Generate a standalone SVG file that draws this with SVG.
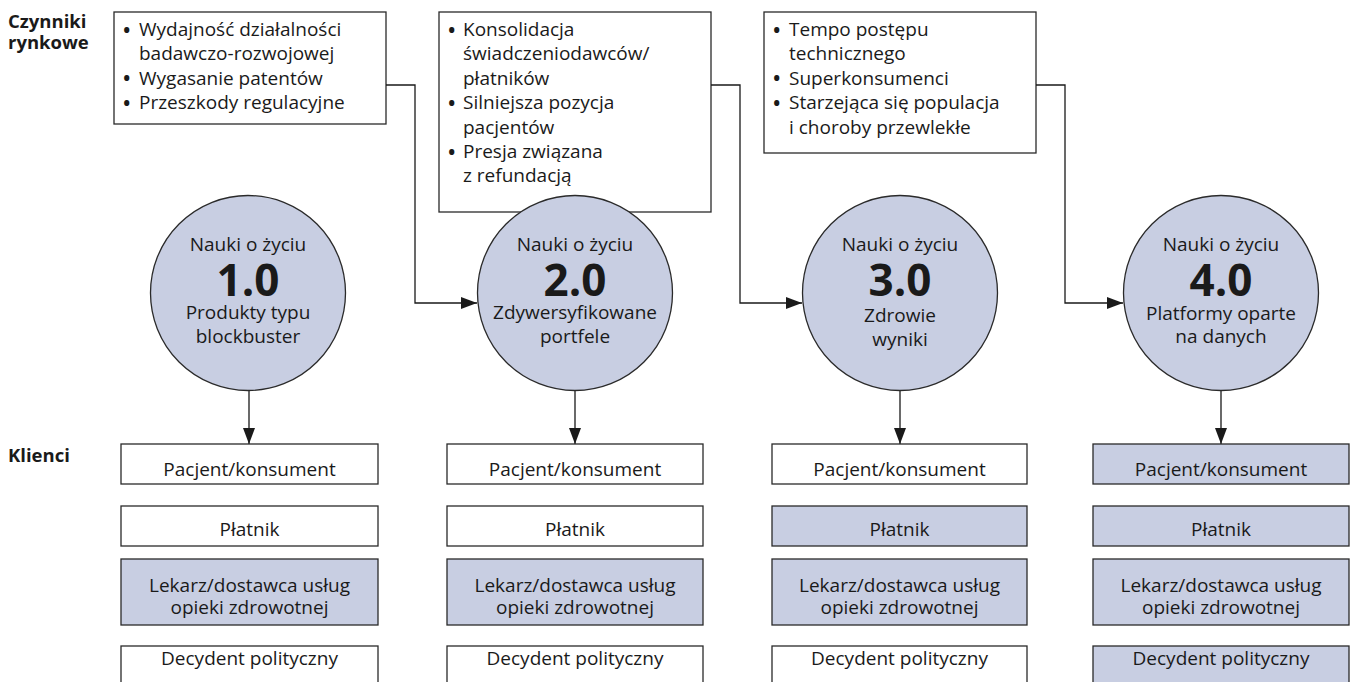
<svg xmlns="http://www.w3.org/2000/svg" width="1356" height="682" viewBox="0 0 1356 682">
<defs>
<marker id="arr" markerUnits="userSpaceOnUse" markerWidth="16" markerHeight="12" refX="16" refY="6" orient="auto">
<path d="M0,0 L16,6 L0,12 z" fill="#1a1a1a"/>
</marker>
<style>
text{font-family:"Open Sans","Noto Sans",sans-serif;fill:#1a1a1a;font-size:19px}
.lbl{font-weight:bold;font-size:18.5px}
.big{font-weight:bold;font-size:44px}
.c{text-anchor:middle}
.b{font-size:25px}
.box{fill:#fff;stroke:#2a2a2a;stroke-width:1.3}
.hi{fill:#c8cee2;stroke:#2a2a2a;stroke-width:1.3}
.circ{fill:#c8cee2;stroke:#2a2a2a;stroke-width:1.3}
.con{fill:none;stroke:#1a1a1a;stroke-width:1.3}
</style>
</defs>
<rect width="1356" height="682" fill="#fff"/>

<g id="labels">
<text class="lbl" x="8" y="28">Czynniki</text>
<text class="lbl" x="8" y="49">rynkowe</text>
<text class="lbl" x="8" y="462">Klienci</text>
</g>

<g id="factors1">
<rect class="box" x="114" y="12" width="272" height="112"/>
<text x="122" y="36"><tspan class="b" dy="2.5">•</tspan><tspan x="139" dy="-2.5">Wydajność działalności</tspan></text>
<text x="139" y="60.4">badawczo-rozwojowej</text>
<text x="122" y="84.8"><tspan class="b" dy="2.5">•</tspan><tspan x="139" dy="-2.5">Wygasanie patentów</tspan></text>
<text x="122" y="109.2"><tspan class="b" dy="2.5">•</tspan><tspan x="139" dy="-2.5">Przeszkody regulacyjne</tspan></text>
</g>

<g id="factors2">
<rect class="box" x="439" y="12" width="272" height="200"/>
<text x="447" y="36"><tspan class="b" dy="2.5">•</tspan><tspan x="463" dy="-2.5">Konsolidacja</tspan></text>
<text x="463" y="60.4">świadczeniodawców/</text>
<text x="463" y="84.8">płatników</text>
<text x="447" y="109.2"><tspan class="b" dy="2.5">•</tspan><tspan x="463" dy="-2.5">Silniejsza pozycja</tspan></text>
<text x="463" y="133.6">pacjentów</text>
<text x="447" y="158"><tspan class="b" dy="2.5">•</tspan><tspan x="463" dy="-2.5">Presja związana</tspan></text>
<text x="463" y="182.4">z refundacją</text>
</g>

<g id="factors3">
<rect class="box" x="764" y="12" width="272" height="141"/>
<text x="772" y="36"><tspan class="b" dy="2.5">•</tspan><tspan x="789" dy="-2.5">Tempo postępu</tspan></text>
<text x="789" y="60.4">technicznego</text>
<text x="772" y="84.8"><tspan class="b" dy="2.5">•</tspan><tspan x="789" dy="-2.5">Superkonsumenci</tspan></text>
<text x="772" y="109.2"><tspan class="b" dy="2.5">•</tspan><tspan x="789" dy="-2.5">Starzejąca się populacja</tspan></text>
<text x="789" y="133.6">i choroby przewlekłe</text>
</g>

<g id="connectors">
<path class="con" d="M386,85 H415 V303 H477" marker-end="url(#arr)"/>
<path class="con" d="M711,85 H740 V303 H802" marker-end="url(#arr)"/>
<path class="con" d="M1036,85 H1065 V303 H1123" marker-end="url(#arr)"/>
<path class="con" d="M249,391 V444" marker-end="url(#arr)"/>
<path class="con" d="M575,391 V444" marker-end="url(#arr)"/>
<path class="con" d="M900,391 V444" marker-end="url(#arr)"/>
<path class="con" d="M1221,391 V444" marker-end="url(#arr)"/>
</g>

<g id="ls1">
<circle class="circ" cx="248" cy="293" r="97.5"/>
<text class="c" x="248" y="251">Nauki o życiu</text>
<text class="c big" x="248" y="296">1.0</text>
<text class="c" x="248" y="319">Produkty typu</text>
<text class="c" x="248" y="343">blockbuster</text>
</g>
<g id="ls2">
<circle class="circ" cx="575" cy="293" r="97.5"/>
<text class="c" x="575" y="251">Nauki o życiu</text>
<text class="c big" x="575" y="296">2.0</text>
<text class="c" x="575" y="319">Zdywersyfikowane</text>
<text class="c" x="575" y="343">portfele</text>
</g>
<g id="ls3">
<circle class="circ" cx="900" cy="293" r="97.5"/>
<text class="c" x="900" y="251">Nauki o życiu</text>
<text class="c big" x="900" y="296">3.0</text>
<text class="c" x="900" y="322">Zdrowie</text>
<text class="c" x="900" y="346">wyniki</text>
</g>
<g id="ls4">
<circle class="circ" cx="1221" cy="293" r="97.5"/>
<text class="c" x="1221" y="251">Nauki o życiu</text>
<text class="c big" x="1221" y="296">4.0</text>
<text class="c" x="1221" y="320">Platformy oparte</text>
<text class="c" x="1221" y="343">na danych</text>
</g>

<g id="clients1">
<rect class="box" x="121" y="444" width="257" height="40"/>
<text class="c" x="249.5" y="476">Pacjent/konsument</text>
<rect class="box" x="121" y="506" width="257" height="40"/>
<text class="c" x="249.5" y="536">Płatnik</text>
<rect class="hi" x="121" y="559" width="257" height="66"/>
<text class="c" x="249.5" y="592">Lekarz/dostawca usług</text>
<text class="c" x="249.5" y="614">opieki zdrowotnej</text>
<rect class="box" x="121" y="646" width="257" height="50"/>
<text class="c" x="249.5" y="665">Decydent polityczny</text>
</g>
<g id="clients2">
<rect class="box" x="447" y="444" width="256" height="40"/>
<text class="c" x="575" y="476">Pacjent/konsument</text>
<rect class="box" x="447" y="506" width="256" height="40"/>
<text class="c" x="575" y="536">Płatnik</text>
<rect class="hi" x="447" y="559" width="256" height="66"/>
<text class="c" x="575" y="592">Lekarz/dostawca usług</text>
<text class="c" x="575" y="614">opieki zdrowotnej</text>
<rect class="box" x="447" y="646" width="256" height="50"/>
<text class="c" x="575" y="665">Decydent polityczny</text>
</g>
<g id="clients3">
<rect class="box" x="772" y="444" width="255" height="40"/>
<text class="c" x="899.5" y="476">Pacjent/konsument</text>
<rect class="hi" x="772" y="506" width="255" height="40"/>
<text class="c" x="899.5" y="536">Płatnik</text>
<rect class="hi" x="772" y="559" width="255" height="66"/>
<text class="c" x="899.5" y="592">Lekarz/dostawca usług</text>
<text class="c" x="899.5" y="614">opieki zdrowotnej</text>
<rect class="box" x="772" y="646" width="255" height="50"/>
<text class="c" x="899.5" y="665">Decydent polityczny</text>
</g>
<g id="clients4">
<rect class="hi" x="1093" y="444" width="256" height="40"/>
<text class="c" x="1221" y="476">Pacjent/konsument</text>
<rect class="hi" x="1093" y="506" width="256" height="40"/>
<text class="c" x="1221" y="536">Płatnik</text>
<rect class="hi" x="1093" y="559" width="256" height="66"/>
<text class="c" x="1221" y="592">Lekarz/dostawca usług</text>
<text class="c" x="1221" y="614">opieki zdrowotnej</text>
<rect class="hi" x="1093" y="646" width="256" height="50"/>
<text class="c" x="1221" y="665">Decydent polityczny</text>
</g>
</svg>
